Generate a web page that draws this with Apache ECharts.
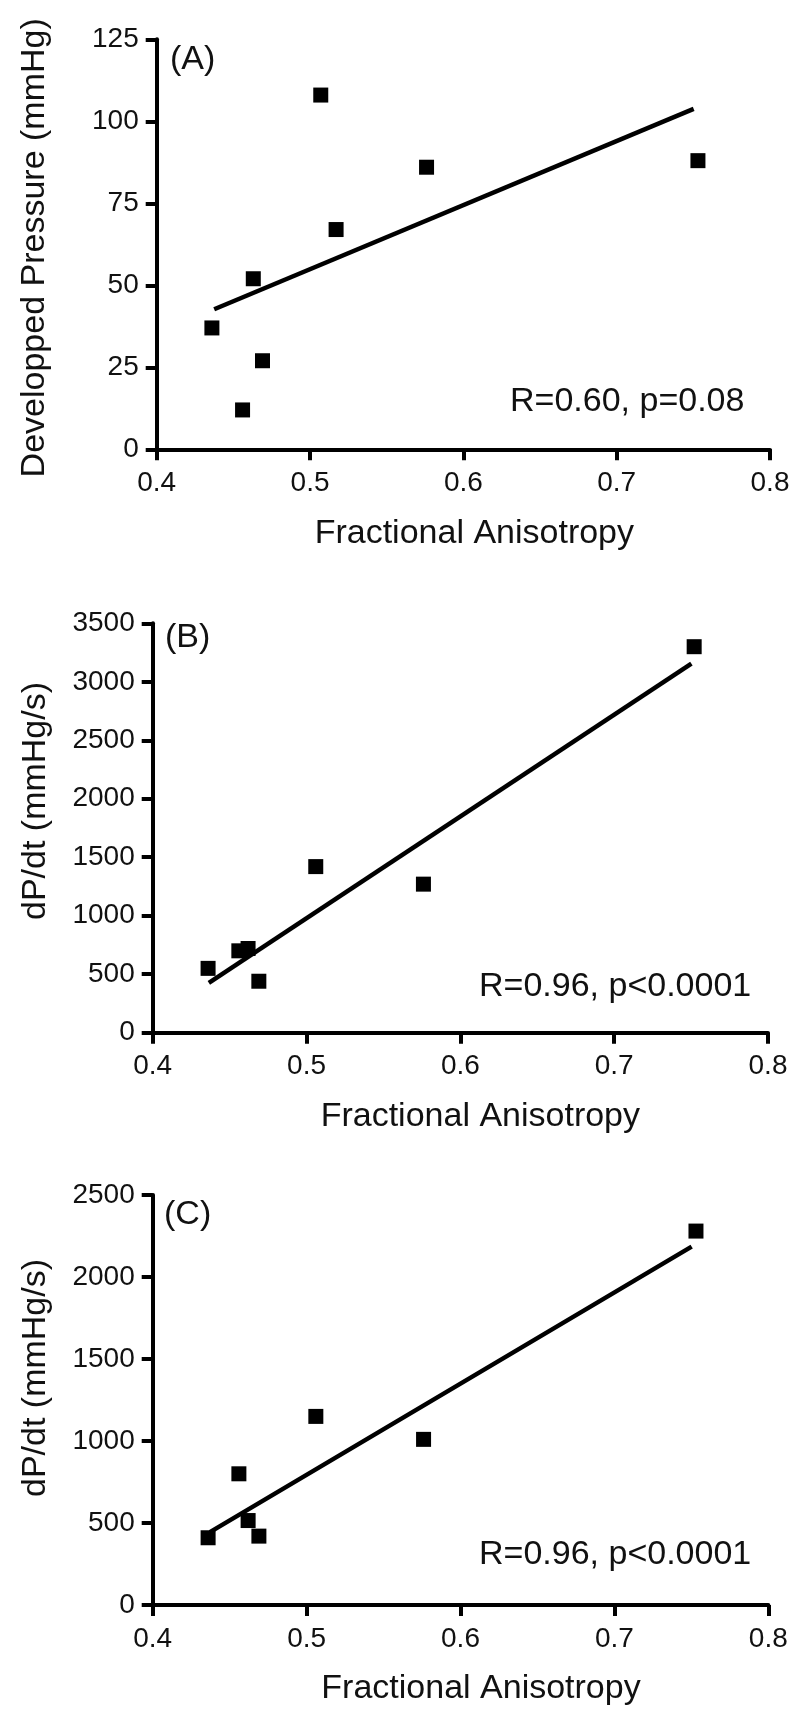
<!DOCTYPE html>
<html>
<head>
<meta charset="utf-8">
<style>
  html, body { margin: 0; padding: 0; background: #fff; }
  #chart { width: 800px; height: 1719px; }
</style>
<script src="https://cdn.jsdelivr.net/npm/echarts@6/dist/echarts.min.js"></script>
</head>
<body>
<div id="chart"></div>
<script>
// ---- Data ----
const xTicks = [0.4, 0.5, 0.6, 0.7, 0.8];

// Panel A: Developped Pressure vs Fractional Anisotropy
const faA = [0.436, 0.456, 0.463, 0.469, 0.507, 0.517, 0.576, 0.753];
const pressA = [37, 12, 52, 27, 108, 67, 86, 88];
const fitAx = [0.4375, 0.7502];
const fitAy = [42.7, 103.8];
const yTicksA = [0, 25, 50, 75, 100, 125];

// Panel B: dP/dt vs Fractional Anisotropy
const faB = [0.436, 0.456, 0.462, 0.469, 0.506, 0.576, 0.752];
const dpdtB = [550, 700, 720, 440, 1420, 1270, 3300];
const fitBx = [0.4365, 0.7502];
const fitBy = [426, 3156];
const yTicksB = [0, 500, 1000, 1500, 2000, 2500, 3000, 3500];

// Panel C: dP/dt vs Fractional Anisotropy
const faC = [0.436, 0.456, 0.462, 0.469, 0.506, 0.576, 0.753];
const dpdtC = [410, 800, 515, 420, 1150, 1010, 2280];
const fitCx = [0.4372, 0.7502];
const fitCy = [444, 2185];
const yTicksC = [0, 500, 1000, 1500, 2000, 2500];

const panelLabels = ['(A)', '(B)', '(C)'];
const statLabels = ['R=0.60, p=0.08', 'R=0.96, p<0.0001', 'R=0.96, p<0.0001'];
const xName = 'Fractional Anisotropy';
const yNames = ['Developped Pressure (mmHg)', 'dP/dt (mmHg/s)', 'dP/dt (mmHg/s)'];

// ---- Styling / layout ----
const FONT = '"Liberation Sans", Arial, Helvetica, sans-serif';
const INK = '#000';
const TXT = '#111';
const AXW = 4;

const grids = [
  { left: 156.7, top: 39.3, width: 613.3, height: 410 },
  { left: 152.7, top: 623.3, width: 615.3, height: 409.4 },
  { left: 152.7, top: 1195, width: 615.6, height: 410 }
];

function pairs(xs, ys) { return xs.map((x, i) => [x, ys[i]]); }

const xNamePad = [[0, 0, 0, 22], [0, 0, 0, 40], [0, 0, 0, 41]];
const yNamePad = [[0, 7, 0, 0], [0, 0, 0, 54], [0, 0, 0, 44]];
const yNameGap = [105, 100, 100];
const yTickSets = [yTicksA, yTicksB, yTicksC];

const xAxes = grids.map((g, i) => ({
  type: 'value', gridIndex: i,
  min: xTicks[0], max: xTicks[xTicks.length - 1], interval: 0.1,
  name: xName, nameLocation: 'middle', nameGap: 67,
  nameTextStyle: { fontFamily: FONT, fontSize: 34, color: TXT, padding: xNamePad[i] },
  axisLine: { show: true, onZero: false, lineStyle: { color: INK, width: AXW } },
  axisTick: { show: true, length: 11, lineStyle: { color: INK, width: AXW } },
  axisLabel: { fontFamily: FONT, fontSize: 28, color: TXT, margin: 20,
    formatter: v => v.toFixed(1) },
  splitLine: { show: false }
}));

const yAxes = grids.map((g, i) => {
  const t = yTickSets[i];
  return {
    type: 'value', gridIndex: i,
    min: t[0], max: t[t.length - 1], interval: t[1] - t[0],
    name: yNames[i], nameLocation: 'middle', nameGap: yNameGap[i],
    nameTextStyle: { fontFamily: FONT, fontSize: 34, color: TXT, padding: yNamePad[i] },
    axisLine: { show: true, onZero: false, lineStyle: { color: INK, width: AXW } },
    axisTick: { show: true, length: 11, lineStyle: { color: INK, width: AXW } },
    axisLabel: { fontFamily: FONT, fontSize: 28, color: TXT, margin: 18,
      formatter: v => String(Math.round(v)) },
    splitLine: { show: false }
  };
});

const scatterData = [pairs(faA, pressA), pairs(faB, dpdtB), pairs(faC, dpdtC)];
const fitData = [pairs(fitAx, fitAy), pairs(fitBx, fitBy), pairs(fitCx, fitCy)];

const series = [];
for (let i = 0; i < 3; i++) {
  series.push({
    type: 'line', xAxisIndex: i, yAxisIndex: i,
    data: fitData[i], showSymbol: false, symbol: 'none',
    lineStyle: { color: INK, width: 4.5 }, silent: true, z: 2
  });
  series.push({
    type: 'scatter', xAxisIndex: i, yAxisIndex: i,
    data: scatterData[i], symbol: 'rect', symbolSize: 15,
    itemStyle: { color: INK, opacity: 1 }, z: 3
  });
}

// Annotation text positions (pixels)
const panelPos = [[170, 59.4], [165, 637.8], [164, 1214.4]];
const statPos = [[510, 401.8], [479, 986.8], [479, 1554.6]];
const graphic = [];
for (let i = 0; i < 3; i++) {
  graphic.push({ type: 'text', left: panelPos[i][0], top: panelPos[i][1] - 17,
    style: { text: panelLabels[i], font: '34px ' + FONT, fill: TXT } });
  graphic.push({ type: 'text', left: statPos[i][0], top: statPos[i][1] - 17,
    style: { text: statLabels[i], font: '34px ' + FONT, fill: TXT } });
}

const chart = echarts.init(document.getElementById('chart'), null, { renderer: 'canvas' });
chart.setOption({
  animation: false,
  backgroundColor: '#fff',
  grid: grids.map(g => Object.assign({ containLabel: false }, g)),
  xAxis: xAxes,
  yAxis: yAxes,
  series: series,
  graphic: graphic
});
</script>
</body>
</html>
